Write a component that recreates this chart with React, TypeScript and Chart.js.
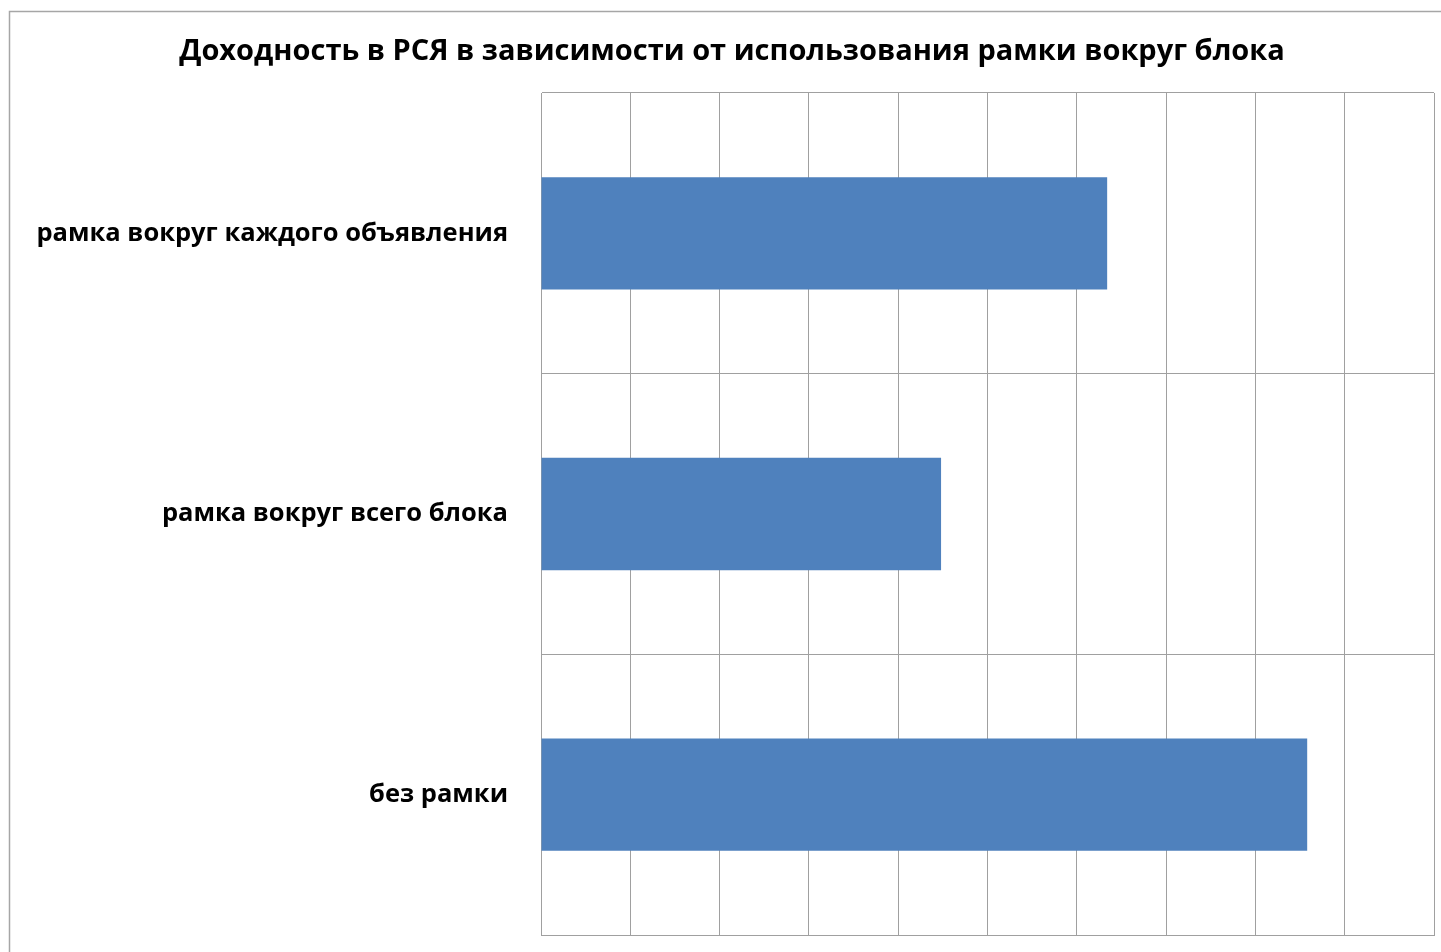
import React, { useEffect, useRef } from "react";
import { Chart, registerables } from "chart.js";

Chart.register(...registerables);

const TITLE = "Доходность в РСЯ в зависимости от использования рамки вокруг блока";
const categories = ["рамка вокруг каждого объявления", "рамка вокруг всего блока", "без рамки"];
const values = [6.34, 4.48, 8.58];
const xMin = 0;
const xMax = 10;
const xStep = 1;

const FONT = "'Open Sans', 'DejaVu Sans', sans-serif";

const framePlugin = {
  id: "frameAndTitle",
  beforeDraw(chart: any) {
    const ctx = chart.ctx;
    ctx.save();
    ctx.fillStyle = "#ffffff";
    ctx.fillRect(0, 0, chart.width, chart.height);
    ctx.strokeStyle = "#a6a6a6";
    ctx.lineWidth = 1.5;
    ctx.beginPath();
    ctx.moveTo(9.5, chart.height + 5);
    ctx.lineTo(9.5, 11.5);
    ctx.lineTo(chart.width + 5, 11.5);
    ctx.stroke();
    ctx.fillStyle = "#000000";
    ctx.font = `bold 29px ${FONT}`;
    ctx.textAlign = "center";
    ctx.textBaseline = "alphabetic";
    ctx.fillText(TITLE, 732, 60);
    ctx.restore();
  },
};

export default function App() {
  const ref = useRef<HTMLCanvasElement | null>(null);
  useEffect(() => {
    document.body.style.margin = "0";
    document.body.style.overflow = "hidden";
    const chart = new Chart(ref.current as HTMLCanvasElement, {
      type: "bar",
      data: {
        labels: categories,
        datasets: [
          {
            data: values,
            backgroundColor: "#4f81bd",
            borderWidth: 0,
            barPercentage: 0.4,
            categoryPercentage: 1,
          },
        ],
      },
      options: {
        indexAxis: "y",
        animation: false,
        responsive: false,
        devicePixelRatio: 1,
        layout: { padding: { top: 93, right: 7, bottom: 17, left: 0 } },
        plugins: {
          legend: { display: false },
          title: { display: false },
          tooltip: { enabled: false },
        },
        scales: {
          x: {
            min: xMin,
            max: xMax,
            ticks: { display: false, stepSize: xStep },
            grid: { color: "#a0a0a0", lineWidth: 1, drawTicks: false },
            border: { color: "#a0a0a0", width: 1 },
            afterFit(scale: any) {
              scale.height = 0;
              scale.paddingLeft = 0;
              scale.paddingRight = 0;
            },
          },
          y: {
            ticks: {
              color: "#000000",
              padding: 33,
              font: { family: FONT, size: 25.5, weight: "bold" },
            },
            grid: { color: "#a0a0a0", lineWidth: 1, drawTicks: false, offset: true },
            border: { color: "#a0a0a0", width: 1 },
            afterFit(scale: any) {
              scale.width = 541;
              scale.paddingTop = 0;
              scale.paddingBottom = 0;
            },
          },
        },
      },
      plugins: [framePlugin],
    });
    return () => chart.destroy();
  }, []);
  return (
    <div style={{ position: "absolute", left: 0, top: 0, width: 1441, height: 952 }}>
      <canvas ref={ref} width={1441} height={952} style={{ width: 1441, height: 952, display: "block" }} />
    </div>
  );
}
